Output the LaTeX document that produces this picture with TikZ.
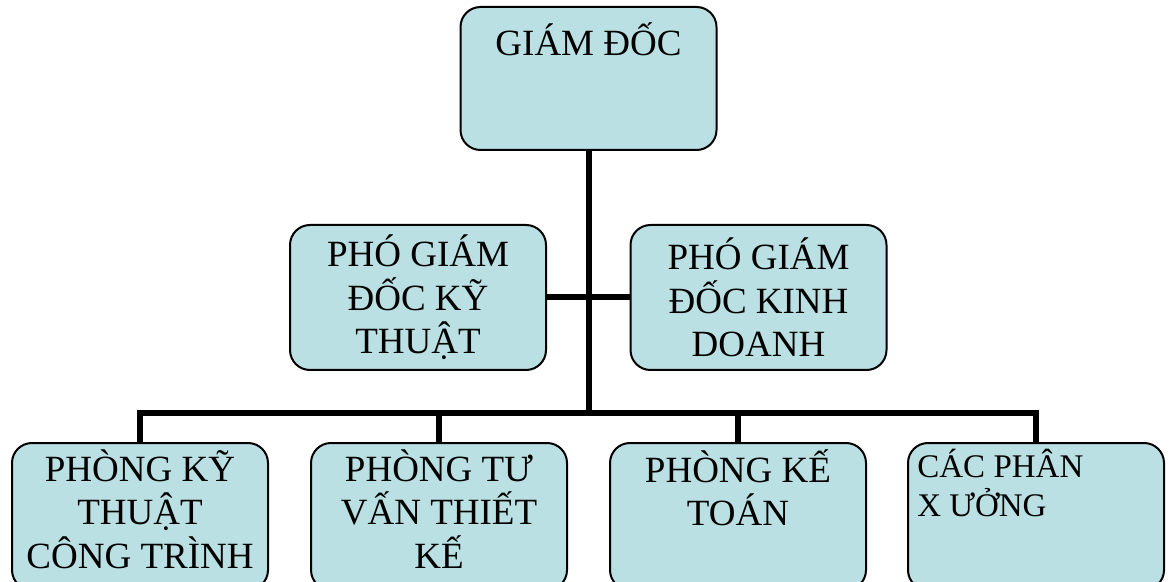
\documentclass[tikz,border=0pt]{standalone}
\usepackage{fontspec}
\setmainfont{Liberation Serif}
\usetikzlibrary{positioning}
\definecolor{boxfill}{RGB}{186,224,227}

\begin{document}
\begin{tikzpicture}[x=0.5pt, y=-0.5pt,
  box/.style={draw=black, line width=1pt, fill=boxfill, rounded corners=10pt,
    minimum width=128pt, minimum height=71.5pt, inner sep=0pt},
  txt/.style={align=center, inner sep=0pt, font=\fontsize{18.5}{21.8}\selectfont},
  link/.style={line width=3pt}]
  \useasboundingbox (0,0) rectangle (1172,582);
  % giam doc
  \node[box] (gd) at (588.5,78.5) {};
  \node[txt, below=8pt of gd.north] (gdt) {GIÁM ĐỐC};
  % pho giam doc
  \node[box, minimum height=72.5pt] (pkt) at (418,297.5) {};
  \node[txt] (pktt) at (pkt.center) {PHÓ GIÁM\\ĐỐC KỸ\\THUẬT};
  \node[box, minimum height=72.5pt] (pkd) at (758.5,297.5) {};
  \node[txt] (pkdt) at (pkd.center) {PHÓ GIÁM\\ĐỐC KINH\\DOANH};
  % phong ban
  \node[box, minimum height=73.5pt] (p1) at (140,516.5) {};
  \node[txt, below=3.5pt of p1.north] (p1t) {PHÒNG KỸ\\THUẬT\\CÔNG TRÌNH};
  \node[box, minimum height=73.5pt] (p2) at (439,516.5) {};
  \node[txt, below=3.5pt of p2.north] (p2t) {PHÒNG TƯ\\VẤN THIẾT\\KẾ};
  \node[box, minimum height=73.5pt] (p3) at (738,516.5) {};
  \node[txt, below=3.5pt of p3.north] (p3t) {PHÒNG KẾ\\TOÁN};
  \node[box, minimum height=73.5pt] (p4) at (1036,516.5) {};
  \node[txt, align=left, font=\fontsize{16.5}{19.5}\selectfont, anchor=north west]
    (p4t) at ([xshift=5pt, yshift=-3.5pt]p4.north west) {CÁC PHÂN\\X ƯỞNG};
  % duong noi
  \coordinate (bus) at (588.5,413);
  \draw[link] (gd.south) -- (bus);
  \draw[link] (pkt.east) -- (pkd.west);
  \draw[link] (p1.north) |- (bus) -| (p4.north);
  \draw[link] (p2.north) -- (p2.north |- bus);
  \draw[link] (p3.north) -- (p3.north |- bus);
\end{tikzpicture}
\end{document}
